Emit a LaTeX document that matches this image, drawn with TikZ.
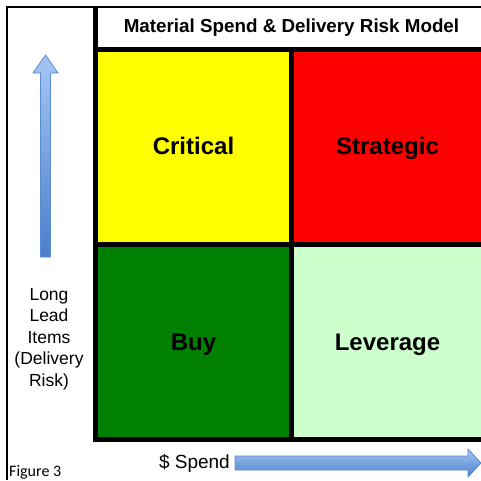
\documentclass[tikz,border=0pt]{standalone}
\usepackage{fontspec}
\setmainfont{Liberation Sans}
\newfontfamily\captionfont{Carlito}
\definecolor{cellyellow}{HTML}{FFFF00}
\definecolor{cellred}{HTML}{FF0000}
\definecolor{celldkgreen}{HTML}{008000}
\definecolor{cellltgreen}{HTML}{CCFFCC}
\definecolor{arrowedge}{HTML}{5B8BD0}
\definecolor{arrowlight}{HTML}{A6C6F4}
\definecolor{arrowdark}{HTML}{4A7FCB}
\tikzset{
  gridline/.style={line width=5pt, black},
  frameline/.style={line width=1.2pt, black},
  celltext/.style={font=\fontsize{24}{28}\selectfont\bfseries, text=black, anchor=base},
  titletext/.style={font=\fontsize{18.8}{21}\selectfont\bfseries, text=black, anchor=base},
  axistext/.style={font=\fontsize{17.5}{21.6}\selectfont, text=black, align=center, inner sep=0pt},
  blockarrow/.style={draw=arrowedge, line width=0.8pt, line join=miter}
}
\begin{document}
\begin{tikzpicture}[x=1pt,y=-1pt]
  \useasboundingbox (0,0) rectangle (481,480);
  \fill[white] (0,0) rectangle (481,480);

  % quadrant fills
  \fill[cellyellow]   (95.5,49)    rectangle (291.5,244);
  \fill[cellred]      (291.5,49)   rectangle (481,244);
  \fill[celldkgreen]  (95.5,244)   rectangle (291.5,439.5);
  \fill[cellltgreen]  (291.5,244)  rectangle (481,439.5);

  % thin outer frame
  \draw[frameline] (7,480) -- (7,7) -- (481,7);

  % grid lines
  \draw[gridline] (95.5,7) -- (95.5,442);
  \draw[gridline] (93,49) -- (481,49);
  \draw[gridline] (291.5,49) -- (291.5,442);
  \draw[gridline] (93,244) -- (481,244);
  \draw[gridline] (93,439.5) -- (481,439.5);

  % headings and quadrant labels
  \node[titletext] (title) at (291.5,32.5) {Material Spend \& Delivery Risk Model};
  \node[celltext] (critical)  at (193.5,154) {Critical};
  \node[celltext] (strategic) at (387.5,154) {Strategic};
  \node[celltext] (buy)       at (193.5,350) {Buy};
  \node[celltext] (leverage)  at (387.5,350) {Leverage};

  % axis labels
  \node[axistext] (risk) at (49,339) {Long\\Lead\\Items\\(Delivery\\Risk)};
  \node[axistext, anchor=base east, font=\fontsize{19}{22}\selectfont] (spend) at (230,468) {\$ Spend};
  \node[anchor=base west, inner sep=0pt, font=\captionfont\fontsize{16}{18}\selectfont] (fig) at (9,476) {Figure 3};

  % vertical block arrow
  \shade[blockarrow, top color=arrowlight, bottom color=arrowdark]
    (45.5,55) -- (58,73) -- (50.5,73) -- (50.5,257) -- (40.5,257) -- (40.5,73) -- (33,73) -- cycle;

  % horizontal block arrow
  \shade[blockarrow, top color=arrowlight, bottom color=arrowdark]
    (235,456) -- (468,456) -- (468,449) -- (481,463) -- (468,477) -- (468,470) -- (235,470) -- cycle;
\end{tikzpicture}
\end{document}
